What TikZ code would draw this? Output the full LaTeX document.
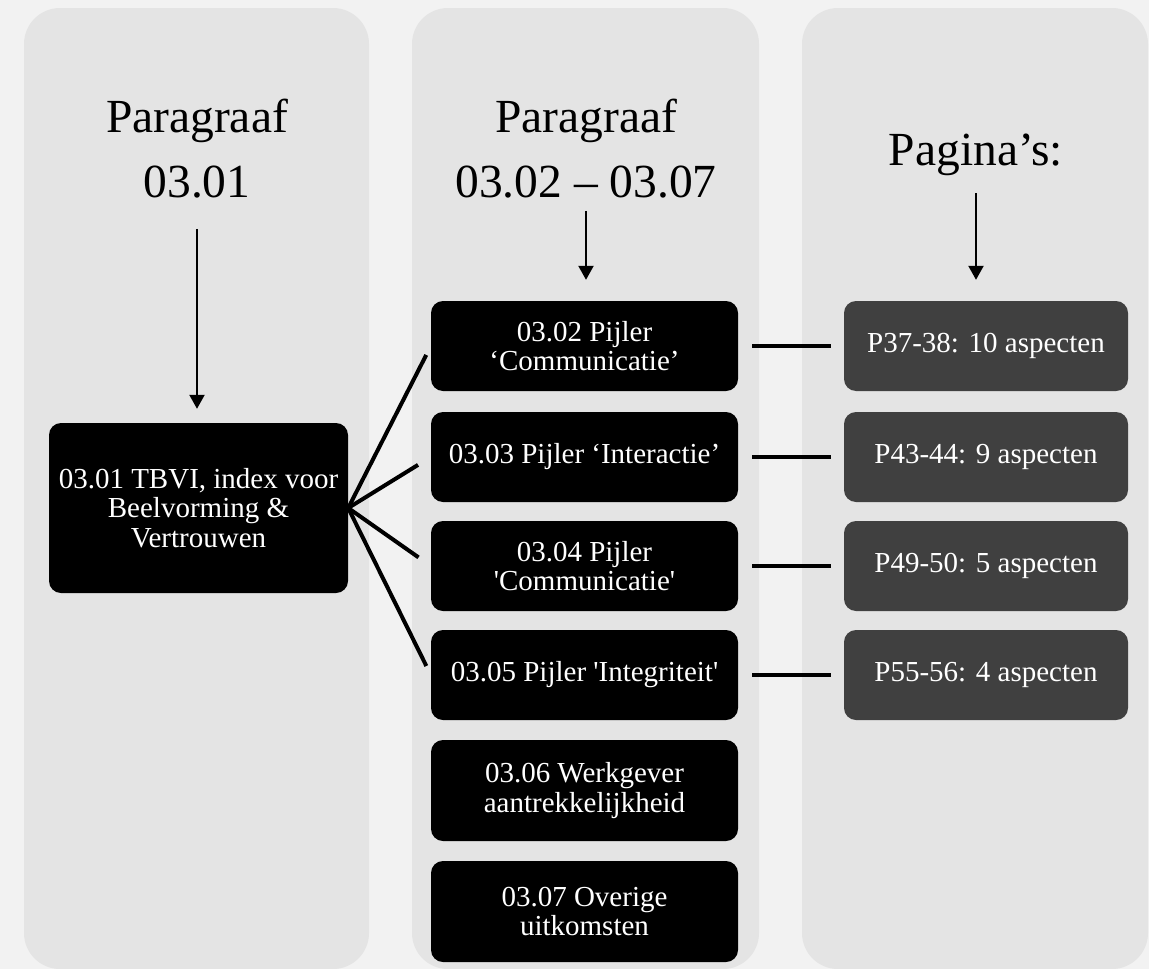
\documentclass[tikz,border=0pt]{standalone}
\usepackage{fontspec}
\setmainfont{Liberation Serif}
\usetikzlibrary{arrows.meta}
\definecolor{pagebg}{HTML}{F2F2F2}
\definecolor{colbg}{HTML}{E4E4E4}
\definecolor{dgray}{HTML}{404040}
\begin{document}
\begin{tikzpicture}[x=1pt,y=-1pt,
  colpanel/.style={fill=colbg, rounded corners=36pt},
  head/.style={font=\fontsize{47.5}{65}\selectfont, align=center, inner sep=0pt},
  boxbase/.style={text=white, rounded corners=12pt, font=\fontsize{29}{29.5}\selectfont, align=center, inner sep=0pt},
  blkbox/.style={boxbase, fill=black, minimum width=307pt, minimum height=90pt},
  graybox/.style={boxbase, fill=dgray, minimum width=284pt, minimum height=90pt},
  arr/.style={-{Triangle[length=14pt,width=15pt]}, line width=2.2pt},
  conn/.style={line width=4pt}
]
\useasboundingbox (0,0) rectangle (1149,969);
\fill[pagebg] (0,0) rectangle (1149,969);
% column panels
\fill[colpanel] (24,8) rectangle (369,969);
\fill[colpanel] (412,8) rectangle (759,969);
\fill[colpanel] (802,8) rectangle (1148,969);
% headings
\node[head] (h1) at (197,149) {Paragraaf\\03.01};
\node[head] (h2) at (586,149) {Paragraaf\\03.02 – 03.07};
\node[head, anchor=base] (h3) at (976,165) {Pagina’s:};
% left box
\node[boxbase, fill=black, minimum width=299pt, minimum height=170pt] (b1) at (198.5,508)
  {03.01 TBVI, index voor\\Beelvorming \&\\Vertrouwen};
% middle boxes
\node[blkbox] (c1) at (584.5,346) {03.02 Pijler\\‘Communicatie’};
\node[blkbox] (c2) at (584.5,457) {03.03 Pijler ‘Interactie’};
\node[blkbox] (c3) at (584.5,566) {03.04 Pijler\\\textquotesingle Communicatie\textquotesingle};
\node[blkbox] (c4) at (584.5,675) {03.05 Pijler \textquotesingle Integriteit\textquotesingle};
\node[blkbox, minimum height=101pt] (c5) at (584.5,790.5) {03.06 Werkgever\\aantrekkelijkheid};
\node[blkbox, minimum height=101pt] (c6) at (584.5,911.5) {03.07 Overige\\uitkomsten};
% right boxes
\node[graybox] (p1) at (986,346) {P37-38: 10 aspecten};
\node[graybox] (p2) at (986,457) {P43-44: 9 aspecten};
\node[graybox] (p3) at (986,566) {P49-50: 5 aspecten};
\node[graybox] (p4) at (986,675) {P55-56: 4 aspecten};
% arrows
\draw[arr, shorten <=30pt, shorten >=14pt] (h1.south) -- (h1.south |- b1.north);
\draw[arr, shorten <=12pt, shorten >=21pt] (h2.south) -- (h2.south |- c1.north);
\draw[arr, shorten <=18pt, shorten >=21pt] (h3.south) -- (h3.south |- p1.north);
% fan connectors
\draw[conn, shorten >=10pt] (b1.east) -- (c1.west);
\draw[conn, shorten >=15pt] (b1.east) -- (c2.west);
\draw[conn, shorten >=15pt] (b1.east) -- (c3.west);
\draw[conn, shorten >=10pt] (b1.east) -- (c4.west);
% horizontal connectors
\draw[conn, shorten <=14pt, shorten >=13pt] (c1.east) -- (p1.west);
\draw[conn, shorten <=14pt, shorten >=13pt] (c2.east) -- (p2.west);
\draw[conn, shorten <=14pt, shorten >=13pt] (c3.east) -- (p3.west);
\draw[conn, shorten <=14pt, shorten >=13pt] (c4.east) -- (p4.west);
\end{tikzpicture}
\end{document}
